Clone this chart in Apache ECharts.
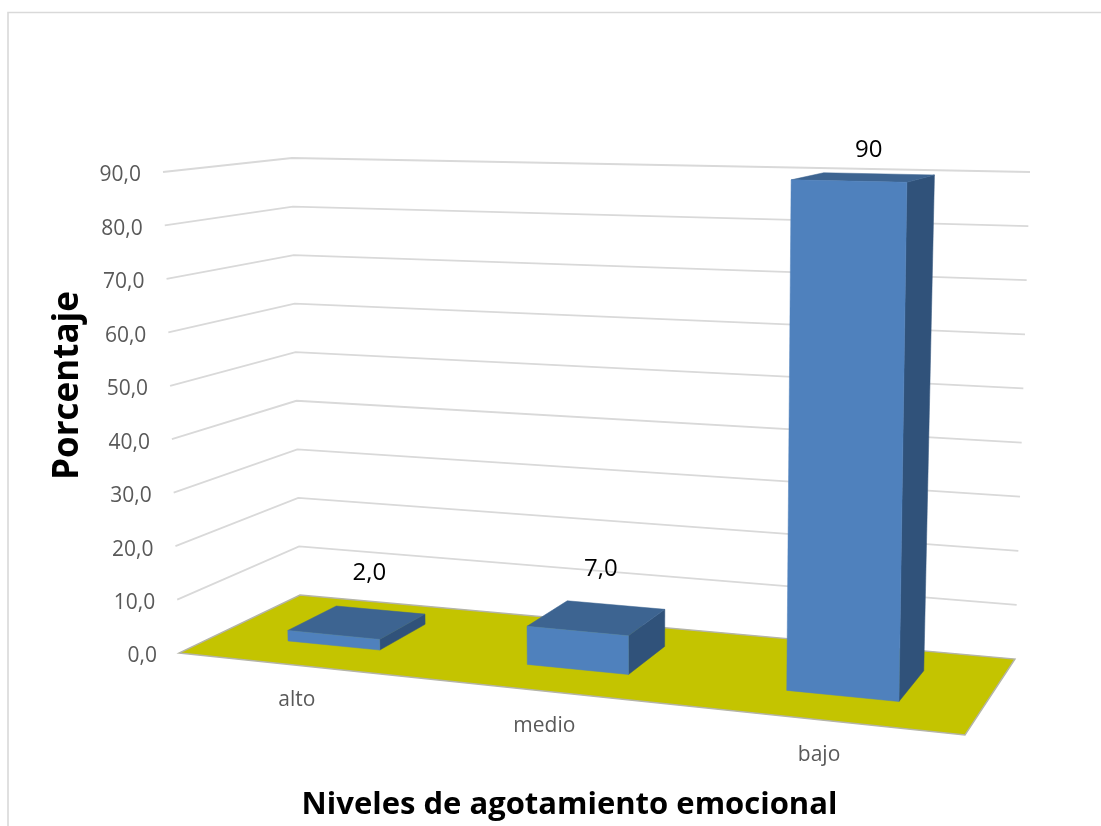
<!DOCTYPE html>
<html>
<head>
<meta charset="utf-8">
<style>html,body{margin:0;padding:0;background:#fff}#c{width:1101px;height:826px}</style>
<script src="https://cdn.jsdelivr.net/npm/echarts@6/dist/echarts.min.js"></script>
</head>
<body>
<div id="c"></div>
<script>
const categories = ['alto', 'medio', 'bajo'];
const values = [2, 7, 90];
const valueLabels = ['2,0', '7,0', '90'];
const tickValues = [0, 10, 20, 30, 40, 50, 60, 70, 80, 90];
const tickLabels = ['0,0', '10,0', '20,0', '30,0', '40,0', '50,0', '60,0', '70,0', '80,0', '90,0'];

// layout of the 3D view: where the corners of the floor and ceiling planes land
const FLOOR = [[179, 653], [965, 735], [1015, 659], [300, 595]];
const CEIL = [[163, 172], [1030, 172], [292, 158]]; // front-left, back-right, back-left
const DEPTH_FRONT = 0.30, DEPTH_BACK = 0.72, BAR_FRAC = 0.4;
const BAR_NUDGE_X = [3.5, 6.5, 5];
const LABEL_OFFSET = [[12, -49], [4, -49], [5, -27]];
const FONT = '"Open Sans", sans-serif';

// plane projection; the floor fixes the perspective, the ceiling shares it
function floorPlane(q) {
  const [[x0, y0], [x1, y1], [x2, y2], [x3, y3]] = q;
  const dx1 = x1 - x2, dx2 = x3 - x2, sx = x0 - x1 + x2 - x3;
  const dy1 = y1 - y2, dy2 = y3 - y2, sy = y0 - y1 + y2 - y3;
  const den = dx1 * dy2 - dx2 * dy1;
  const g = (sx * dy2 - dx2 * sy) / den, h = (dx1 * sy - sx * dy1) / den;
  return planeWith(g, h, [x0, y0], [x2, y2], [x3, y3]);
}
function planeWith(g, h, p00, p11, p01) {
  const c = p00[0], f = p00[1];
  const w01 = 1 + h, w11 = 1 + g + h;
  const b = p01[0] * w01 - c, e = p01[1] * w01 - f;
  const a = p11[0] * w11 - b - c, d = p11[1] * w11 - e - f;
  const at = (u, v) => {
    const w = g * u + h * v + 1;
    return [(a * u + b * v + c) / w, (d * u + e * v + f) / w];
  };
  at.g = g; at.h = h;
  return at;
}
const floorAt = floorPlane(FLOOR);
const ceilAt = planeWith(floorAt.g, floorAt.h, CEIL[0], CEIL[1], CEIL[2]);
function project(u, v, t) {
  const p = floorAt(u, v), q = ceilAt(u, v);
  return [p[0] + (q[0] - p[0]) * t, p[1] + (q[1] - p[1]) * t];
}
// axis scale -> normalised room coordinates
function uOf(params, api, cat) {
  const r = params.coordSys;
  return (api.coord([cat, 0])[0] - r.x) / r.width;
}
function tOf(params, api, val) {
  const r = params.coordSys;
  return (r.y + r.height - api.coord([0, val])[1]) / r.height;
}
function poly(points, fill) {
  return { type: 'polygon', shape: { points }, style: { fill, stroke: fill, lineWidth: 0.5 } };
}

const chart = echarts.init(document.getElementById('c'), null, { renderer: 'canvas' });
chart.setOption({
  animation: false,
  backgroundColor: '#fff',
  grid: { left: 163, right: 71, top: 172, height: 481, containLabel: false },
  xAxis: {
    type: 'category', data: categories,
    axisLine: { show: false }, axisTick: { show: false }, axisLabel: { show: false }, splitLine: { show: false },
    name: 'Niveles de agotamiento emocional', nameLocation: 'middle', nameGap: 138,
    nameTextStyle: { fontFamily: FONT, fontWeight: 'bold', fontSize: 31, color: '#000', padding: [0, 54, 0, 0] }
  },
  yAxis: {
    type: 'value', min: 0, max: 90, interval: 10,
    axisLine: { show: false }, axisTick: { show: false }, axisLabel: { show: false }, splitLine: { show: false },
    name: 'Porcentaje', nameLocation: 'middle', nameRotate: 90, nameGap: 77,
    nameTextStyle: { fontFamily: FONT, fontWeight: 'bold', fontSize: 35, color: '#000', padding: [0, 0, 0, 53] }
  },
  graphic: [{
    type: 'polyline', silent: true, z: -1,
    shape: { points: [[8, 826], [8, 12.5], [1101, 12.5]] },
    style: { stroke: '#d9d9d9', lineWidth: 1.6, fill: null }
  }],
  series: [
    { // back walls: gridlines and tick labels
      type: 'custom', z: 1, silent: true, clip: false,
      data: tickValues.map((v, i) => [i, v]),
      encode: { y: 1 },
      renderItem(params, api) {
        const val = api.value(1);
        const t = tOf(params, api, val);
        const a = project(0, 0, t);
        const children = [{
          type: 'text', style: {
            text: tickLabels[api.value(0)], x: a[0] - 22, y: a[1] + 3.5,
            align: 'right', verticalAlign: 'middle', fontFamily: FONT, fontSize: 21, fill: '#595959'
          }
        }];
        if (val > 0) children.push({
          type: 'polyline',
          shape: { points: [a, project(0, 1, t), project(1, 1, t)] },
          style: { stroke: '#d9d9d9', lineWidth: 1.8, fill: null }
        });
        return { type: 'group', children };
      }
    },
    { // floor
      type: 'custom', z: 2, silent: true, clip: false,
      data: [[0, 0]],
      renderItem() {
        return {
          type: 'polygon',
          shape: { points: [project(0, 0, 0), project(1, 0, 0), project(1, 1, 0), project(0, 1, 0)] },
          style: { fill: '#c4c400', stroke: '#b4b4a8', lineWidth: 1.4 }
        };
      }
    },
    { // bars
      type: 'custom', z: 3, silent: true, clip: false,
      data: values.map((v, i) => [i, v]),
      encode: { x: 0, y: 1 },
      renderItem(params, api) {
        const i = api.value(0), val = api.value(1);
        const uc = uOf(params, api, i);
        const hw = api.size([1, 0])[0] / params.coordSys.width * BAR_FRAC / 2;
        const t = tOf(params, api, val);
        const u0 = uc - hw, u1 = uc + hw, f = DEPTH_FRONT, b = DEPTH_BACK;
        const P = (u, v, tt) => { const p = project(u, v, tt); return [p[0] + BAR_NUDGE_X[i], p[1]]; };
        const catPos = floorAt(uc, 0);
        const top = P(uc, (f + b) / 2, t);
        return {
          type: 'group',
          children: [
            poly([P(u1, f, 0), P(u1, b, 0), P(u1, b, t), P(u1, f, t)], '#30527a'),
            poly([P(u0, f, t), P(u1, f, t), P(u1, b, t), P(u0, b, t)], '#3d6491'),
            poly([P(u0, f, 0), P(u1, f, 0), P(u1, f, t), P(u0, f, t)], '#4f81bd'),
            {
              type: 'text', style: {
                text: valueLabels[i], x: top[0] + LABEL_OFFSET[i][0], y: top[1] + LABEL_OFFSET[i][1],
                align: 'center', verticalAlign: 'middle', fontFamily: FONT, fontSize: 24, fill: '#000'
              }
            },
            {
              type: 'text', style: {
                text: categories[i], x: catPos[0] + 3, y: catPos[1] + 35.5,
                align: 'center', verticalAlign: 'middle', fontFamily: FONT, fontSize: 21, fill: '#595959'
              }
            }
          ]
        };
      }
    }
  ]
});
</script>
</body>
</html>
